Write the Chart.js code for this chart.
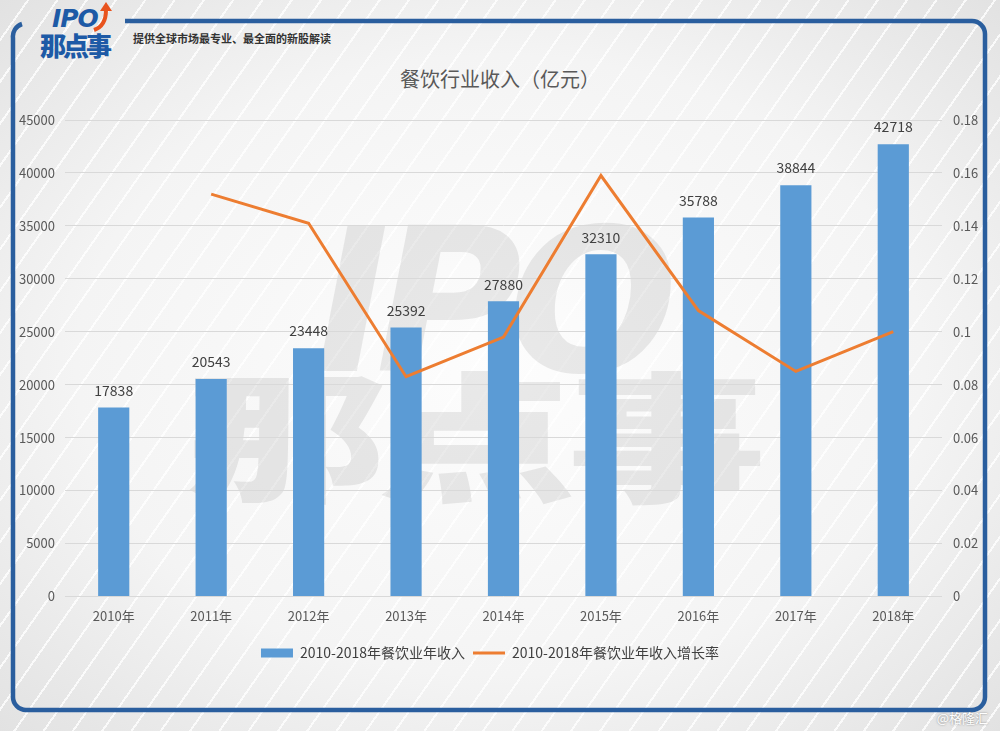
<!DOCTYPE html>
<html>
<head>
<meta charset="utf-8">
<script src="https://cdn.jsdelivr.net/npm/chart.js@4/dist/chart.umd.min.js"></script>
<style>
  body { margin: 0; }
  #page {
    position: relative; width: 1000px; height: 731px; overflow: hidden;
    background:
      repeating-linear-gradient(125deg, rgba(255,255,255,0) 0 22px, rgba(255,255,255,0.8) 22px 24px),
      radial-gradient(ellipse at 50% 50%, #fdfdfd 0%, #f4f4f4 60%, #e2e2e2 100%);
    font-family: "Liberation Sans Narrow", "Noto Sans CJK SC", sans-serif;
  }
  #frame { position: absolute; left: 0; top: 0; }
  #logo { position: absolute; left: 40px; top: 4px; width: 90px; height: 60px; }
  #logo .ipo { position: absolute; left: 12px; top: 0; font: italic bold 25px "DejaVu Sans", sans-serif; color: #1d5aa6; letter-spacing: -1px; }
  #logo .cn { position: absolute; left: 0; top: 26px; font: 900 26px "Noto Sans CJK SC", sans-serif; color: #1d5aa6; letter-spacing: -3px; line-height: 30px; }
  #tagline { position: absolute; left: 133px; top: 30px; font: bold 11px "Noto Sans CJK SC", sans-serif; color: #333; }
  #title { position: absolute; left: 0; width: 1000px; top: 64px; text-align: center; font: 20px "Noto Sans CJK SC", sans-serif; color: #595959; }
  #wm { position: absolute; left: 195px; top: 205px; width: 600px; height: 320px; color: rgba(90,90,90,0.12); pointer-events: none; }
  #wm .ipo { position: absolute; left: 120px; top: -20px; font: italic bold 200px "DejaVu Sans", sans-serif; letter-spacing: -14px; }
  #wm .cn { position: absolute; left: -8px; top: 150px; font: 900 140px "Noto Sans CJK SC", sans-serif; letter-spacing: -6px; line-height: 150px; transform: scaleX(1.42); transform-origin: 0 0; }
  #credit { position: absolute; right: 12px; bottom: 4px; font: 13px "Noto Sans CJK SC", sans-serif; color: #fff; text-shadow: 0 0 2px #777; }
  #wrap { position: absolute; left: 0; top: 0; width: 1000px; height: 731px; }
</style>
</head>
<body>
<div id="page">
  <div id="wm"><div class="ipo">IPO</div><div class="cn">那点事</div></div>
  <svg id="frame" width="1000" height="731">
    <path d="M125 21 H972 A13 13 0 0 1 985 34 V697 A13 13 0 0 1 972 710 H26 A13 13 0 0 1 13 697 V38 A13 13 0 0 1 22 24"
          fill="none" stroke="#2a5e9e" stroke-width="4.5"/>
  </svg>
  <div id="logo"><div class="ipo">IPO</div><div class="cn">那点事</div></div>
  <svg width="1000" height="60" style="position:absolute;left:0;top:0">
    <path d="M94 30 Q106 26 106 10" fill="none" stroke="#e8531d" stroke-width="4"/>
    <path d="M100 11 L106 2 L112 11 Z" fill="#e8531d"/>
  </svg>
  <div id="tagline">提供全球市场最专业、最全面的新股解读</div>
  <div id="title">餐饮行业收入（亿元）</div>
  <div id="credit">@格隆汇</div>
  <div id="wrap"><canvas id="chart"></canvas></div>
</div>
<script>
const years = ['2010年', '2011年', '2012年', '2013年', '2014年', '2015年', '2016年', '2017年', '2018年'];
const revenue = [17838, 20543, 23448, 25392, 27880, 32310, 35788, 38844, 42718];
const growth = [null, 0.152, 0.141, 0.083, 0.098, 0.159, 0.108, 0.085, 0.100];
const leftTicks = [0, 5000, 10000, 15000, 20000, 25000, 30000, 35000, 40000, 45000];
const rightTicks = [0, 0.02, 0.04, 0.06, 0.08, 0.1, 0.12, 0.14, 0.16, 0.18];

const textColor = '#595959';
const tickFont = { family: '"Liberation Sans Narrow", "Noto Sans CJK SC", sans-serif', size: 13 };

// 柱顶数值标签
const barLabels = {
    id: 'barLabels',
    afterDatasetsDraw(chart) {
        const meta = chart.getDatasetMeta(0);
        const ctx = chart.ctx;
        ctx.save();
        ctx.font = '14px "Liberation Sans Narrow", "Noto Sans CJK SC", sans-serif';
        ctx.fillStyle = '#404040';
        ctx.textAlign = 'center';
        ctx.textBaseline = 'bottom';
        meta.data.forEach((bar, i) => {
            ctx.fillText(String(revenue[i]), bar.x, bar.y - 10);
        });
        ctx.restore();
    }
};

new Chart(document.getElementById('chart').getContext('2d'), {
    type: 'bar',
    data: {
        labels: years,
        datasets: [{
            label: '2010-2018年餐饮业年收入',
            data: revenue,
            backgroundColor: '#5b9bd5',
            borderWidth: 0,
            barPercentage: 0.32,
            categoryPercentage: 1,
            yAxisID: 'y',
            pointStyle: 'rect',
            order: 1
        }, {
            type: 'line',
            label: '2010-2018年餐饮业年收入增长率',
            data: growth,
            borderColor: '#ed7d31',
            backgroundColor: '#ed7d31',
            borderWidth: 3,
            pointRadius: 0,
            tension: 0,
            yAxisID: 'y1',
            pointStyle: 'line',
            order: 0
        }]
    },
    options: {
        responsive: true,
        maintainAspectRatio: false,
        animation: false,
        layout: { padding: { top: 120, left: 0, right: 20, bottom: 61 } },
        plugins: {
            legend: {
                position: 'bottom',
                labels: {
                    usePointStyle: true,
                    pointStyleWidth: 32,
                    boxHeight: 9,
                    color: '#404040',
                    font: { family: tickFont.family, size: 14 },
                    padding: 8,
                    sort: (a, b) => a.datasetIndex - b.datasetIndex
                }
            },
            tooltip: { enabled: false }
        },
        scales: {
            x: {
                grid: { display: false },
                border: { display: false },
                afterFit: s => { s.height += 10; },
                ticks: { color: textColor, font: tickFont, padding: 4 }
            },
            y: {
                position: 'left',
                min: 0, max: 45000,
                afterBuildTicks: s => { s.ticks = leftTicks.map(v => ({ value: v })); },
                afterFit: s => { s.width = 65; },
                grid: { color: '#d9d9d9', drawTicks: false },
                border: { display: false },
                ticks: { color: textColor, font: tickFont, padding: 10, callback: v => String(v) }
            },
            y1: {
                position: 'right',
                min: 0, max: 0.18,
                afterBuildTicks: s => { s.ticks = rightTicks.map(v => ({ value: v })); },
                afterFit: s => { s.width = 38; },
                grid: { display: false },
                border: { display: false },
                ticks: { color: textColor, font: tickFont, padding: 3, callback: v => String(v) }
            }
        }
    },
    plugins: [barLabels]
});
</script>
</body>
</html>
